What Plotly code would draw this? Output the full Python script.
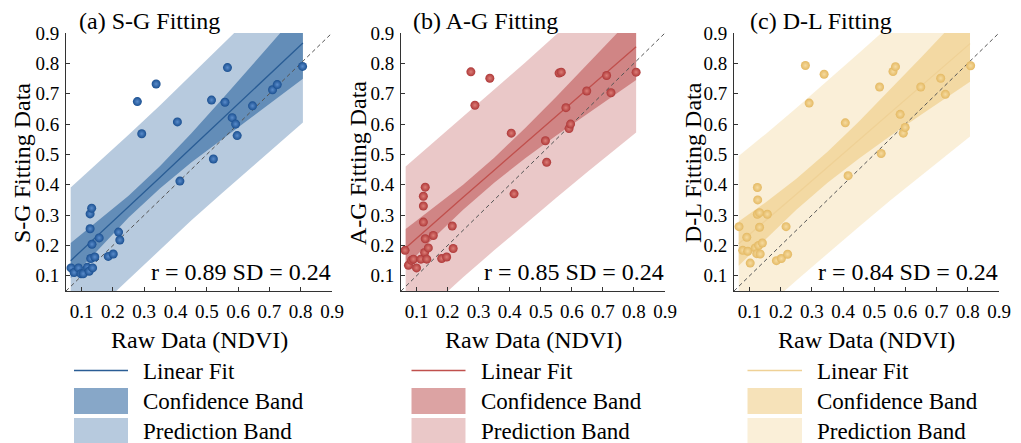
import plotly.graph_objects as go

W, H = 1021, 443
FONT = "Liberation Serif, Times New Roman, serif"

# ---------------- data ----------------
sg_x = [0.066, 0.076, 0.090, 0.098, 0.105, 0.118, 0.124, 0.135, 0.129, 0.142,
        0.127, 0.127, 0.132, 0.133, 0.156, 0.185, 0.201, 0.218, 0.222, 0.278,
        0.292, 0.338, 0.406, 0.414, 0.515, 0.521, 0.558, 0.566, 0.581, 0.592,
        0.597, 0.646, 0.710, 0.725, 0.806]
sg_y = [0.126, 0.111, 0.126, 0.107, 0.107, 0.128, 0.115, 0.126, 0.157, 0.162,
        0.255, 0.304, 0.323, 0.204, 0.225, 0.164, 0.172, 0.244, 0.218, 0.674,
        0.568, 0.732, 0.607, 0.412, 0.679, 0.485, 0.672, 0.786, 0.621, 0.600,
        0.562, 0.660, 0.713, 0.730, 0.790]

ag_x = [0.063, 0.074, 0.084, 0.090, 0.100, 0.114, 0.122, 0.122, 0.122, 0.128,
        0.126, 0.128, 0.133, 0.138, 0.154, 0.181, 0.197, 0.215, 0.218, 0.275,
        0.288, 0.336, 0.405, 0.414, 0.515, 0.519, 0.559, 0.566, 0.581, 0.591,
        0.596, 0.648, 0.712, 0.726, 0.807]
ag_y = [0.184, 0.135, 0.151, 0.155, 0.126, 0.155, 0.362, 0.330, 0.277, 0.392,
        0.177, 0.222, 0.155, 0.192, 0.233, 0.157, 0.162, 0.264, 0.190, 0.772,
        0.662, 0.751, 0.570, 0.370, 0.545, 0.474, 0.768, 0.771, 0.654, 0.585,
        0.600, 0.709, 0.760, 0.703, 0.771]

dl_x = [0.066, 0.078, 0.091, 0.094, 0.102, 0.118, 0.125, 0.126, 0.125, 0.123,
        0.129, 0.132, 0.132, 0.134, 0.141, 0.157, 0.186, 0.202, 0.217, 0.222,
        0.279, 0.291, 0.339, 0.407, 0.416, 0.517, 0.522, 0.560, 0.568, 0.583,
        0.593, 0.599, 0.649, 0.713, 0.728, 0.809]
dl_y = [0.262, 0.184, 0.227, 0.181, 0.142, 0.192, 0.391, 0.350, 0.303, 0.173,
        0.200, 0.260, 0.308, 0.172, 0.208, 0.303, 0.150, 0.157, 0.262, 0.171,
        0.793, 0.669, 0.764, 0.604, 0.430, 0.722, 0.503, 0.773, 0.789, 0.632,
        0.570, 0.589, 0.722, 0.751, 0.698, 0.792]

band_x = [0.065, 0.15, 0.25, 0.35, 0.45, 0.55, 0.65, 0.75, 0.807]

sg_fit = [0.150, 0.231, 0.328, 0.424, 0.521, 0.617, 0.714, 0.811, 0.867]
sg_conf_hi = [0.208, 0.279, 0.364, 0.461, 0.569, 0.683, 0.799, 0.917, 0.985]
sg_conf_lo = [0.092, 0.183, 0.292, 0.388, 0.473, 0.552, 0.629, 0.705, 0.749]
sg_pred_hi = [0.391, 0.470, 0.565, 0.661, 0.760, 0.860, 0.963, 1.068, 1.129]
sg_pred_lo = [-0.091, -0.008, 0.091, 0.187, 0.282, 0.374, 0.465, 0.554, 0.605]

ag_fit = [0.192, 0.270, 0.359, 0.448, 0.537, 0.626, 0.715, 0.804, 0.855]
ag_conf_hi = [0.254, 0.320, 0.400, 0.489, 0.587, 0.690, 0.796, 0.903, 0.965]
ag_conf_lo = [0.130, 0.220, 0.318, 0.407, 0.487, 0.562, 0.634, 0.705, 0.745]
ag_pred_hi = [0.460, 0.536, 0.623, 0.712, 0.803, 0.895, 0.988, 1.083, 1.138]
ag_pred_lo = [-0.076, 0.004, 0.095, 0.184, 0.271, 0.357, 0.442, 0.525, 0.572]

dl_fit = [0.206, 0.280, 0.369, 0.458, 0.547, 0.636, 0.725, 0.814, 0.865]
dl_conf_hi = [0.279, 0.341, 0.420, 0.509, 0.608, 0.712, 0.819, 0.928, 0.991]
dl_conf_lo = [0.133, 0.219, 0.318, 0.407, 0.486, 0.560, 0.631, 0.700, 0.739]
dl_pred_hi = [0.495, 0.566, 0.653, 0.742, 0.833, 0.925, 1.020, 1.116, 1.171]
dl_pred_lo = [-0.083, -0.006, 0.085, 0.174, 0.261, 0.347, 0.430, 0.512, 0.559]

diag = [0.05, 0.9]
tick_vals = [0.1, 0.2, 0.3, 0.4, 0.5, 0.6, 0.7, 0.8, 0.9]

titles = ["(a) S-G Fitting", "(b) A-G Fitting", "(c) D-L Fitting"]
ytitles = ["S-G Fitting Data", "A-G Fitting Data", "D-L Fitting Data"]
stats = ["r = 0.89 SD = 0.24", "r = 0.85 SD = 0.24", "r = 0.84 SD = 0.24"]
xtitle = "Raw Data (NDVI)"
legend_labels = ["Linear Fit", "Confidence Band", "Prediction Band"]

# ---------------- styling ----------------
panels = [
    dict(x=sg_x, y=sg_y, fit=sg_fit, chi=sg_conf_hi, clo=sg_conf_lo, phi=sg_pred_hi, plo=sg_pred_lo,
         base=(15, 79, 145), pa=0.30, ca=0.50, line="#2a5d95", mk="#1a4f90", mkc="#5a8ccb",
         left=66, right=332, sw=(74, 128), tx=141, ytx=22, tt=77),
    dict(x=ag_x, y=ag_y, fit=ag_fit, chi=ag_conf_hi, clo=ag_conf_lo, phi=ag_pred_hi, plo=ag_pred_lo,
         base=(178, 52, 50), pa=0.27, ca=0.45, line="#c0504d", mk="#ae3838", mkc="#dc7d77",
         left=401, right=665, sw=(411.5, 465.5), tx=478.5, ytx=358, tt=410.5),
    dict(x=dl_x, y=dl_y, fit=dl_fit, chi=dl_conf_hi, clo=dl_conf_lo, phi=dl_pred_hi, plo=dl_pred_lo,
         base=(236, 190, 100), pa=0.25, ca=0.45, line="#efd196", mk="#e4b963", mkc="#f6dba0",
         left=734, right=999, sw=(747.5, 802), tx=815, ytx=693, tt=748),
]

TOP, BOT = 33, 291


def px(x):
    return x / W


def py(y):
    return (H - y) / H


fig = go.Figure()
shapes = []
annotations = []

for i, p in enumerate(panels):
    k = "" if i == 0 else str(i + 1)
    xa, ya = "x" + k, "y" + k
    r, g, b = p["base"]
    pcol = f"rgba({r},{g},{b},{p['pa']})"
    ccol = f"rgba({r},{g},{b},{p['ca']})"

    fig.add_trace(go.Scatter(x=band_x + band_x[::-1], y=p["phi"] + p["plo"][::-1],
                             fill="toself", fillcolor=pcol, line=dict(width=0),
                             mode="lines", hoverinfo="skip", showlegend=False,
                             xaxis=xa, yaxis=ya))
    fig.add_trace(go.Scatter(x=band_x + band_x[::-1], y=p["chi"] + p["clo"][::-1],
                             fill="toself", fillcolor=ccol, line=dict(width=0),
                             mode="lines", hoverinfo="skip", showlegend=False,
                             xaxis=xa, yaxis=ya))
    fig.add_trace(go.Scatter(x=band_x, y=p["fit"], mode="lines",
                             line=dict(color=p["line"], width=1.3),
                             showlegend=False, xaxis=xa, yaxis=ya))
    fig.add_trace(go.Scatter(x=diag, y=diag, mode="lines",
                             line=dict(color="#555555", width=1, dash="4px,3px"),
                             showlegend=False, xaxis=xa, yaxis=ya))
    fig.add_trace(go.Scatter(x=p["x"], y=p["y"], mode="markers",
                             marker=dict(size=9, color=p["mk"],
                                         gradient=dict(type="radial", color=p["mkc"]),
                                         line=dict(width=0)),
                             showlegend=False, xaxis=xa, yaxis=ya))

    axcommon = dict(range=[0.05, 0.9], tickvals=tick_vals, tickformat=".1f",
                    ticks="inside", ticklen=4, tickwidth=1, tickcolor="#333",
                    showline=True, linecolor="#333", linewidth=1, mirror=False,
                    showgrid=False, zeroline=False,
                    tickfont=dict(family=FONT, size=19, color="black"))
    fig.update_layout(**{
        "xaxis" + k: dict(domain=[px(p["left"]), px(p["right"])], anchor=ya,
                          ticklabelstandoff=3, **axcommon),
        "yaxis" + k: dict(domain=[py(BOT), py(TOP)], anchor=xa,
                          ticklabelstandoff=2, **axcommon),
    })

    annotations.append(dict(text=titles[i], x=px(p["tt"]), y=py(21), xref="paper", yref="paper",
                            xanchor="left", yanchor="middle", showarrow=False,
                            font=dict(family=FONT, size=24, color="black")))
    annotations.append(dict(text=ytitles[i], x=px(p["ytx"]), y=py(163), xref="paper", yref="paper",
                            xanchor="center", yanchor="middle", textangle=-90, showarrow=False,
                            font=dict(family=FONT, size=24, color="black")))
    annotations.append(dict(text=stats[i], x=px(p["right"] + 1), y=py(272), xref="paper", yref="paper",
                            xanchor="right", yanchor="middle", showarrow=False,
                            font=dict(family=FONT, size=24, color="black")))
    annotations.append(dict(text=xtitle, x=px((p["left"] + p["right"]) / 2), y=py(340),
                            xref="paper", yref="paper", xanchor="center", yanchor="middle",
                            showarrow=False, font=dict(family=FONT, size=24, color="black")))

    x0, x1 = p["sw"]
    shapes.append(dict(type="line", xref="paper", yref="paper", x0=px(x0), x1=px(x1),
                       y0=py(370.5), y1=py(370.5), line=dict(color=p["line"], width=1.5)))
    shapes.append(dict(type="rect", xref="paper", yref="paper", x0=px(x0), x1=px(x1),
                       y0=py(414), y1=py(388), fillcolor=ccol, line=dict(width=0)))
    shapes.append(dict(type="rect", xref="paper", yref="paper", x0=px(x0), x1=px(x1),
                       y0=py(444), y1=py(418), fillcolor=pcol, line=dict(width=0)))
    for lab, yy in zip(legend_labels, [371, 401, 431]):
        annotations.append(dict(text=lab, x=px(p["tx"]), y=py(yy), xref="paper", yref="paper",
                                xanchor="left", yanchor="middle", showarrow=False,
                                font=dict(family=FONT, size=23, color="black")))

fig.update_layout(width=W, height=H, margin=dict(l=0, r=0, t=0, b=0, autoexpand=False),
                  paper_bgcolor="white", plot_bgcolor="white",
                  shapes=shapes, annotations=annotations, showlegend=False)

fig.write_html("out.html", config={"displayModeBar": False})
